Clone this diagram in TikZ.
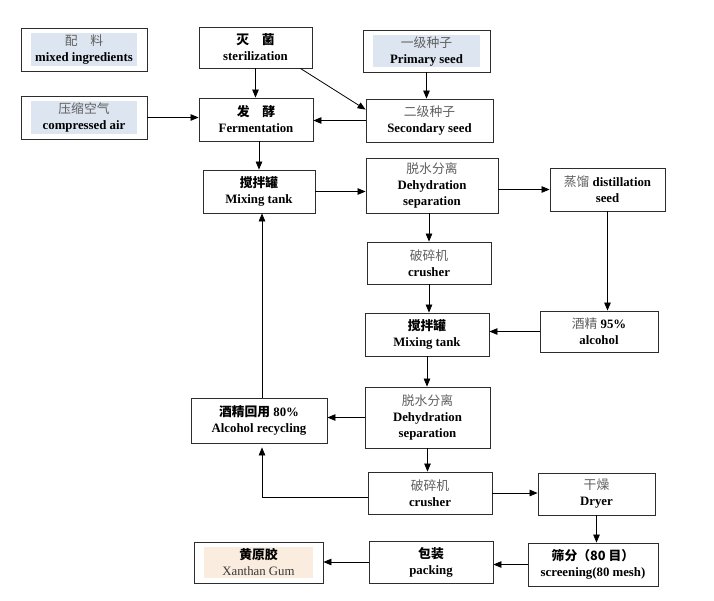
\documentclass[tikz,border=0pt]{standalone}
\usepackage{fontspec}
\setmainfont{Liberation Serif}
\newfontfamily\cjk{Noto Sans CJK SC}
\usetikzlibrary{arrows.meta,positioning,calc}
\definecolor{framegray}{RGB}{45,45,45}
\definecolor{zhgray}{RGB}{95,95,95}
\definecolor{lightblue}{RGB}{221,229,240}
\definecolor{lightpeach}{RGB}{250,236,222}
\newcommand{\zh}[1]{{\cjk\mdseries\color{zhgray}#1}}
\newcommand{\zhb}[1]{{\cjk\bfseries #1}}

\begin{document}
\begin{tikzpicture}[
    x=1pt, y=-1pt,
    font=\fontsize{12.8}{16}\selectfont\bfseries,
    box/.style={rectangle, draw=framegray, line width=0.85pt, align=center, inner sep=0pt},
    shaded/.style={box, path picture={\fill[#1] ([xshift=10pt,yshift=5pt]path picture bounding box.south west) rectangle ([xshift=-10pt,yshift=-5pt]path picture bounding box.north east);}},
    flow/.style={-{Triangle[length=8pt,width=6.5pt]}, line width=0.8pt, black}
]
    \useasboundingbox (0,0) rectangle (714,600);

    % Top rows
    \node[shaded=lightblue, minimum width=126pt, minimum height=43pt] (mix) at (84,49.5) {\zh{配\quad 料}\\mixed ingredients};
    \node[box, minimum width=113pt, minimum height=41pt] (steril) at (255.5,47.5) {\zhb{灭\quad 菌}\\sterilization};
    \node[shaded=lightblue, minimum width=127pt, minimum height=42pt] (prim) at (426.5,51) {\zh{一级种子}\\Primary seed};
    \node[shaded=lightblue, minimum width=126pt, minimum height=43pt] (air) at (84,117.5) {\zh{压缩空气}\\compressed air};
    \node[box, minimum width=114pt, minimum height=43pt] (ferm) at (256,119.5) {\zhb{发\quad 酵}\\Fermentation};
    \node[box, minimum width=127pt, minimum height=43pt] (sec) at (429.5,120.5) {\zh{二级种子}\\Secondary seed};

    % First alcohol treatment
    \node[box, minimum width=112pt, minimum height=43pt] (tank1) at (259,191.5) {\zhb{搅拌罐}\\Mixing tank};
    \node[box, minimum width=132pt, minimum height=55pt] (dehy1) at (432,185.5) {\zh{脱水分离}\\Dehydration\\separation};
    \node[box, minimum width=115pt, minimum height=43pt] (dist) at (607.5,189.5) {\zh{蒸馏} distillation\\seed};
    \node[box, minimum width=124pt, minimum height=42pt] (crush1) at (429,263) {\zh{破碎机}\\crusher};

    % Second alcohol treatment
    \node[box, minimum width=124pt, minimum height=43pt] (tank2) at (427,334.5) {\zhb{搅拌罐}\\Mixing tank};
    \node[box, minimum width=118pt, minimum height=41pt] (alc) at (599,331.5) {\zh{酒精} 95\%\\alcohol};
    \node[box, minimum width=125pt, minimum height=61pt] (dehy2) at (427.5,417.5) {\zh{脱水分离}\\Dehydration\\separation};
    \node[box, minimum width=136pt, minimum height=45pt] (recyc) at (259,420.5) {\zhb{酒精回用} 80\%\\Alcohol recycling};

    % Finishing
    \node[box, minimum width=124pt, minimum height=42pt] (crush2) at (430,493) {\zh{破碎机}\\crusher};
    \node[box, minimum width=117pt, minimum height=42pt] (dryer) at (596.5,494) {\zh{干燥}\\Dryer};
    \node[box, minimum width=130pt, minimum height=43pt] (screen) at (593,564.5) {\zhb{筛分（80 目）}\\screening(80 mesh)};
    \node[box, minimum width=124pt, minimum height=42pt] (pack) at (431,562) {\zhb{包装}\\packing};
    \node[shaded=lightpeach, minimum width=129pt, minimum height=41pt] (xan) at (258.5,562.5) {\zhb{黄原胶}\\{\mdseries\color{zhgray!60!black}Xanthan Gum}};

    % Edges
    \draw[flow] (steril.south) -- (steril.south |- ferm.north);
    \draw[flow] ([xshift=-12pt]steril.south east) -- ([yshift=-11pt]sec.north west);
    \draw[flow] (prim.south) -- (prim.south |- sec.north);
    \draw[flow] (air.east) -- (air.east -| ferm.west);
    \draw[flow] (sec.west) -- (sec.west -| ferm.east);
    \draw[flow] ([xshift=3pt]ferm.south) -- ([xshift=3pt]ferm.south |- tank1.north);
    \draw[flow] (tank1.east) -- (tank1.east -| dehy1.west);
    \draw[flow] (dist.west -| dehy1.east) -- (dist.west);
    \draw[flow] (crush1.north |- dehy1.south) -- (crush1.north);
    \draw[flow] (dist.south) -- (dist.south |- alc.north);
    \draw[flow] (crush1.south) -- (crush1.south |- tank2.north);
    \draw[flow] (alc.west) -- (alc.west -| tank2.east);
    \draw[flow] (tank2.south) -- (tank2.south |- dehy2.north);
    \draw[flow] (dehy2.west) -- (dehy2.west -| recyc.east);
    \draw[flow] (dehy2.south) -- (dehy2.south |- crush2.north);
    \draw[flow] ([xshift=3pt]recyc.north) -- ([xshift=3pt]recyc.north |- tank1.south);
    \draw[flow] ([yshift=-4pt]crush2.west) -| ([xshift=3pt,yshift=-4pt]recyc.south);
    \draw[flow] (crush2.east) -- (crush2.east -| dryer.west);
    \draw[flow] (dryer.south) -- (dryer.south |- screen.north);
    \draw[flow] (screen.west) -- (screen.west -| pack.east);
    \draw[flow] (pack.west) -- (pack.west -| xan.east);
\end{tikzpicture}
\end{document}
